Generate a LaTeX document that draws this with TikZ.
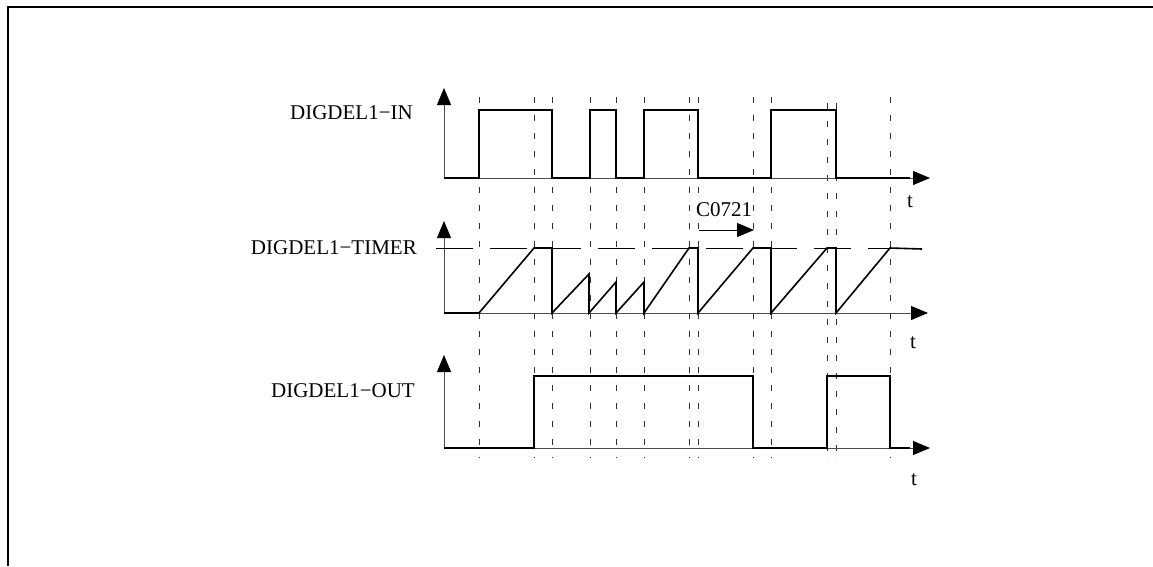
\documentclass[tikz,border=0pt]{standalone}
\usepackage{fontspec}
\setmainfont{Liberation Serif}
\usetikzlibrary{arrows.meta}

\begin{document}
\begin{tikzpicture}[
    x=1pt, y=-1pt,
    axis/.style={-{Triangle[length=17pt, width=14pt, color=black]}, line width=0.9pt, black!70},
    sig/.style={line width=1.7pt, black, line join=miter},
    guide/.style={dash pattern=on 6pt off 12pt, line width=1pt, black!80},
    level/.style={dash pattern=on 37pt off 17pt, line width=0.9pt, black},
    lbl/.style={font=\fontsize{21}{24}\selectfont, anchor=east, inner sep=0pt},
    tlbl/.style={font=\fontsize{21}{24}\selectfont, inner sep=0pt},
]

\useasboundingbox (0,0) rectangle (1153,566);

% frame
\draw[line width=2pt] (8,566) -- (8,6.5) -- (1153,6.5);

% ===== guide lines =====
\foreach \x in {479,534,552,590,616,644,689,698,753,771,890}
  \draw[guide] (\x,97) -- (\x,458);
\foreach \x in {827,836}
  \draw[guide] (\x,103) -- (\x,463);

% ===== DIGDEL1-IN =====
\coordinate (oin) at (444,178);
\draw[axis] (oin) -- ++(0,-90);
\draw[axis] (oin) -- ++(486,0);
\node[lbl] (lblin) at (413,113) {DIGDEL1−IN};
\node[tlbl] (tin) at (910,202) {t};
\draw[sig] (oin) -- (479,178) -- (479,110) -- (552,110) -- (552,178)
  -- (590,178) -- (590,110) -- (616,110) -- (616,178)
  -- (644,178) -- (644,110) -- (698,110) -- (698,178)
  -- (771,178) -- (771,110) -- (836,110) -- (836,178) -- (910,178);

% ===== DIGDEL1-TIMER =====
\coordinate (otimer) at (444,313);
\draw[axis] (otimer) -- ++(0,-92);
\draw[axis] (otimer) -- ++(484,0);
\node[lbl] (lbltimer) at (417,248) {DIGDEL1−TIMER};
\node[tlbl] (ttimer) at (913,343) {t};
\draw[level] (436,248) -- (905,248);
\draw[sig, line width=1.6pt] (otimer) -- (479,313) -- (534,248) -- (552,248) -- (552,313)
  -- (589,274) -- (589,313) -- (616,282) -- (616,313)
  -- (644,282) -- (644,313) -- (689,248) -- (698,248) -- (698,313)
  -- (753,248) -- (771,248) -- (771,313) -- (827,248) -- (836,248) -- (836,313)
  -- (890,248) -- (922,249);

% C0721 delay
\node[tlbl] (c0721) at (724,210) {C0721};
\coordinate (c0721s) at (699,230);
\coordinate (c0721e) at (754,230);
\draw[-{Triangle[length=17pt, width=14pt]}, line width=0.9pt] (c0721s) -- (c0721e);

% ===== DIGDEL1-OUT =====
\coordinate (oout) at (444,448);
\draw[axis] (oout) -- ++(0,-93);
\draw[axis] (oout) -- ++(486,0);
\node[lbl] (lblout) at (415,391) {DIGDEL1−OUT};
\node[tlbl] (tout) at (914,480) {t};
\draw[sig] (oout) -- (534,448) -- (534,376) -- (753,376) -- (753,448)
  -- (827,448) -- (827,376) -- (890,376) -- (890,448) -- (910,448);

\end{tikzpicture}
\end{document}
